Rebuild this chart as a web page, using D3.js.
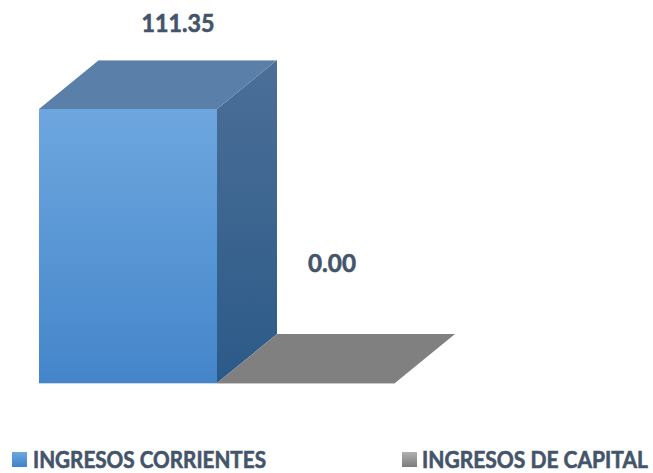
<!DOCTYPE html>
<html>
<head>
<meta charset="utf-8">
<script src="https://cdn.jsdelivr.net/npm/d3@7"></script>
<style>
  body { margin: 0; background: #fff; }
  svg { display: block; font-family: Lato, "Open Sans", sans-serif; }
</style>
</head>
<body>
<div id="chart"></div>
<script>
// data
var categories = ["INGRESOS CORRIENTES", "INGRESOS DE CAPITAL"];
var values = [111.35, 0.00];
var valueLabels = ["111.35", "0.00"];

var width = 653, height = 473;
var depthX = 60, depthY = 49;
var textColor = "#44546a";

var svg = d3.select("#chart")
    .append("svg")
        .attr("width", width)
        .attr("height", height);

var defs = svg.append("defs");

function vGrad(id, c1, c2) {
    var g = defs.append("linearGradient")
        .attr("id", id)
        .attr("x1", 0).attr("y1", 0).attr("x2", 0).attr("y2", 1);
    g.append("stop").attr("offset", "0%").attr("stop-color", c1);
    g.append("stop").attr("offset", "100%").attr("stop-color", c2);
}
vGrad("front0", "#6ea7df", "#4485ca");
vGrad("side0", "#4b6f98", "#2c5a88");
vGrad("leg0", "#6ea7df", "#3f82c8");
vGrad("leg1", "#b0b0b0", "#7c7c7c");

// scales
var x = d3.scaleBand()
    .domain(categories)
    .range([39, 395])
    .padding(0);

var y = d3.scaleLinear()
    .domain([0, 111.35])
    .range([383, 109]);

var bw = x.bandwidth();

// 3D bars
categories.forEach(function(c, i) {
    var x0 = x(c), x1 = x0 + bw;
    var yb = y(0), yt = y(values[i]);
    var g = svg.append("g");

    if (values[i] > 0) {
        // front face
        g.append("rect")
            .attr("x", x0).attr("y", yt)
            .attr("width", bw).attr("height", yb - yt)
            .attr("fill", "url(#front0)");
        // right face
        g.append("path")
            .attr("d", "M" + x1 + "," + yt +
                       "L" + (x1 + depthX) + "," + (yt - depthY) +
                       "L" + (x1 + depthX) + "," + (yb - depthY) +
                       "L" + x1 + "," + yb + "Z")
            .attr("fill", "url(#side0)");
        // top face
        g.append("path")
            .attr("d", "M" + x0 + "," + yt +
                       "L" + (x0 + depthX) + "," + (yt - depthY) +
                       "L" + (x1 + depthX) + "," + (yt - depthY) +
                       "L" + x1 + "," + yt + "Z")
            .attr("fill", "#5a7fa8");
        g.append("line")
            .attr("x1", x0 + depthX).attr("x2", x1 + depthX)
            .attr("y1", yt - depthY + 0.5).attr("y2", yt - depthY + 0.5)
            .attr("stroke", "#9fb2c8").attr("stroke-width", 1);
        g.append("line")
            .attr("x1", x0).attr("x2", x1)
            .attr("y1", yb + 0.5).attr("y2", yb + 0.5)
            .attr("stroke", "#c9d9ea").attr("stroke-width", 1);
    } else {
        // flat bar at zero
        g.append("path")
            .attr("d", "M" + x0 + "," + yb +
                       "L" + (x0 + depthX) + "," + (yb - depthY) +
                       "L" + (x1 + depthX) + "," + (yb - depthY) +
                       "L" + x1 + "," + yb + "Z")
            .attr("fill", "#808080");
        g.append("line")
            .attr("x1", x0).attr("x2", x1)
            .attr("y1", yb + 0.5).attr("y2", yb + 0.5)
            .attr("stroke", "#c8c8c8").attr("stroke-width", 1);
    }
});

// value labels
var labelDx = [50, 26];
var labelDy = [77, 111];
svg.selectAll(".vlabel")
    .data(values)
    .enter().append("text")
        .attr("class", "vlabel")
        .attr("x", function(d, i) { return x(categories[i]) + bw / 2 + labelDx[i]; })
        .attr("y", function(d, i) { return y(d) - labelDy[i]; })
        .attr("text-anchor", "middle")
        .attr("font-size", 25)
        .attr("font-weight", "bold")
        .attr("fill", textColor)
        .attr("stroke", textColor)
        .attr("stroke-width", 0.6)
        .attr("textLength", function(d, i) { return i === 0 ? 73 : 48; })
        .attr("lengthAdjust", "spacingAndGlyphs")
        .text(function(d, i) { return valueLabels[i]; });

// legend
var legX = [12, 402];
var legW = [233, 226];
var legend = svg.selectAll(".legend")
    .data(categories)
    .enter().append("g")
        .attr("class", "legend")
        .attr("transform", function(d, i) { return "translate(" + legX[i] + ",452)"; });

legend.append("rect")
    .attr("width", 15).attr("height", 15)
    .attr("fill", function(d, i) { return "url(#leg" + i + ")"; });

legend.append("text")
    .attr("x", function(d, i) { return i === 0 ? 21 : 20; })
    .attr("y", 16)
    .attr("font-size", 23)
    .attr("font-weight", "bold")
    .attr("fill", textColor)
    .attr("stroke", textColor)
    .attr("stroke-width", 0.6)
    .attr("textLength", function(d, i) { return legW[i]; })
    .attr("lengthAdjust", "spacingAndGlyphs")
    .text(function(d) { return d; });
</script>
</body>
</html>
